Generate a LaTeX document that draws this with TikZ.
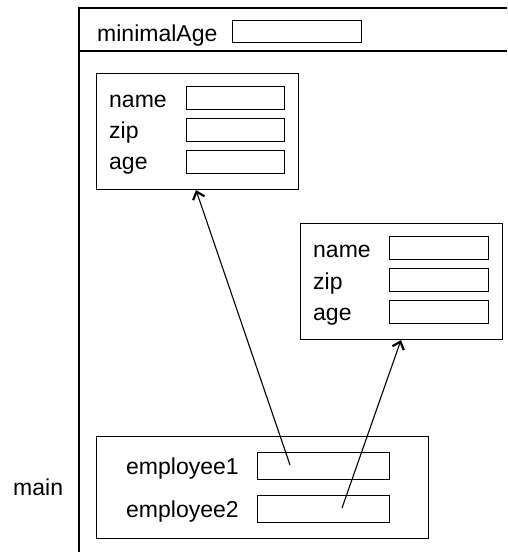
\documentclass[tikz,border=0pt]{standalone}
\usepackage{fontspec}
\setmainfont{Liberation Sans}
\usetikzlibrary{arrows.meta}
\begin{document}
\begin{tikzpicture}[x=1pt,y=-1pt,
  frame/.style={line width=1.4pt},
  objbox/.style={draw,line width=1.3pt,inner sep=0pt,anchor=north west},
  field/.style={draw,line width=1.3pt,inner sep=0pt,anchor=north west,minimum height=23pt},
  lbl/.style={inner sep=0pt,anchor=base west,font=\fontsize{23}{27}\selectfont},
  ref/.style={line width=1.1pt,-{Straight Barb[length=7pt,width=12pt,line width=2.2pt]}}]
\useasboundingbox (0,0) rectangle (507,552);
% outer frame
\draw[frame] (79,552) -- (79,8) -- (507,8);
\draw[frame] (79,51) -- (507,51);
\node[lbl] (minAgeL) at (97,41) {minimalAge};
\node[field,minimum width=129pt,minimum height=22pt] (minAgeF) at (232,20) {};
% object 1
\node[objbox,minimum width=202pt,minimum height=116pt] (obj1) at (96,73) {};
\node[lbl] (n1L) at (109,107) {name};
\node[lbl] (z1L) at (109,138) {zip};
\node[lbl] (a1L) at (109,169) {age};
\node[field,minimum width=98pt] (n1F) at (186,86) {};
\node[field,minimum width=98pt] (z1F) at (186,118) {};
\node[field,minimum width=98pt] (a1F) at (186,150) {};
% object 2
\node[objbox,minimum width=202pt,minimum height=116pt] (obj2) at (300,223) {};
\node[lbl] (n2L) at (313,257) {name};
\node[lbl] (z2L) at (313,289) {zip};
\node[lbl] (a2L) at (313,320) {age};
\node[field,minimum width=99pt] (n2F) at (389,236) {};
\node[field,minimum width=99pt] (z2F) at (389,268) {};
\node[field,minimum width=99pt] (a2F) at (389,300) {};
% main
\node[lbl] (mainL) at (13,495) {main};
\node[objbox,minimum width=332pt,minimum height=102pt] (mainB) at (96,436) {};
\node[lbl] (e1L) at (126,474) {employee1};
\node[lbl] (e2L) at (126,517) {employee2};
\node[field,minimum width=132pt,minimum height=27pt] (e1F) at (257,452) {};
\node[field,minimum width=132pt,minimum height=27pt] (e2F) at (257,495) {};
% references
\coordinate (r1s) at (290,465);
\coordinate (r1e) at (196,190);
\coordinate (r2s) at (342,508);
\coordinate (r2e) at (401,340);
\draw[ref] (r1s) -- (r1e);
\draw[ref] (r2s) -- (r2e);
\end{tikzpicture}
\end{document}
